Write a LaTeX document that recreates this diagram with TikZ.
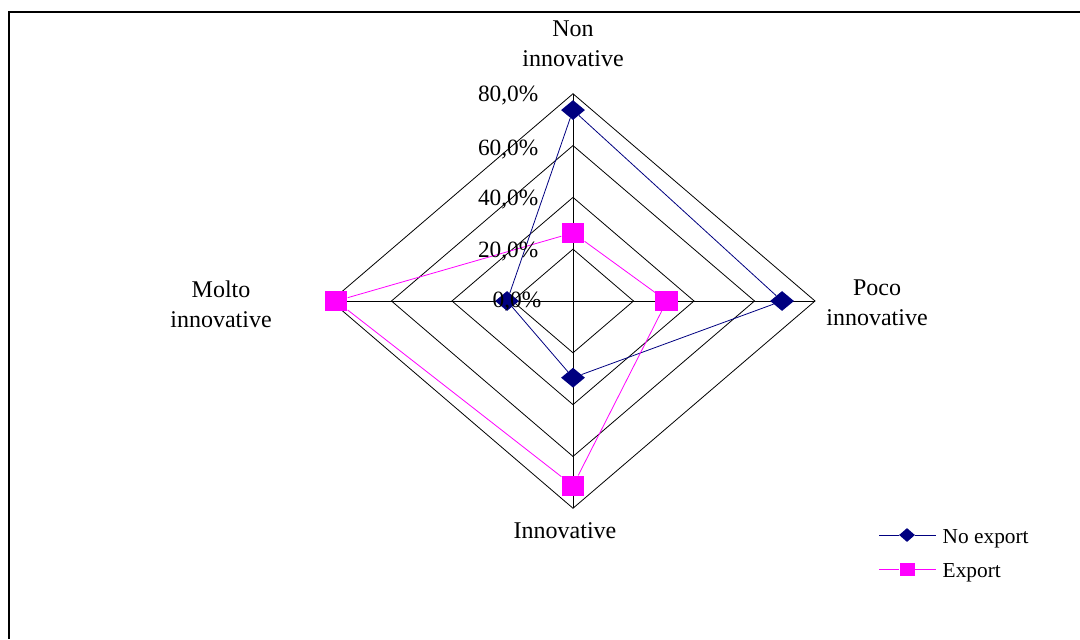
\documentclass[tikz,border=0pt]{standalone}
\usepackage{fontspec}
\setmainfont{Liberation Serif}
\usetikzlibrary{shapes.geometric}
\definecolor{RadarNavy}{HTML}{000080}
\definecolor{RadarPink}{HTML}{FF00FF}

\begin{document}
\begin{tikzpicture}[x=.75pt,y=-.75pt]
    \tikzset{
      ring/.style={draw=black,line width=.6pt},
      noexp/.style={diamond, minimum width=18pt, minimum height=15pt, inner sep=0pt,
        fill=RadarNavy},
      expo/.style={rectangle, minimum width=17pt, minimum height=15pt, inner sep=0pt,
        fill=RadarPink},
      noline/.style={draw=RadarNavy,line width=.6pt},
      expline/.style={draw=RadarPink,line width=.6pt},
      pctlabel/.style={anchor=east,font=\fontsize{17.5}{20}\selectfont},
      axislabel/.style={align=center,font=\fontsize{18}{22.5}\selectfont},
      legend/.style={anchor=base west,font=\fontsize{16}{19}\selectfont}
    }
    \useasboundingbox (0,0) rectangle (1080,639);
    \draw[line width=2.2pt] (1080,12) -- (9,12) -- (9,639);
    \begin{scope}[shift={(573,301)},x=2.269pt,y=1.943pt]
      \foreach \r in {20,40,60,80}
        \draw[ring] (0,\r) -- (\r,0) -- (0,-\r) -- (-\r,0) -- cycle;
      \draw[ring] (0,80) -- (0,-80) (-80,0) -- (80,0);
      % no export
      \node[noexp] (n1) at (0,73.7) {};
      \node[noexp] (n2) at (69.1,0) {};
      \node[noexp] (n3) at (0,-29.6) {};
      \node[noexp] (n4) at (-21.8,0) {};
      % export
      \node[expo] (e1) at (0,26.3) {};
      \node[expo] (e2) at (31,0) {};
      \node[expo] (e3) at (0,-71.3) {};
      \node[expo] (e4) at (-78.3,0) {};
      \foreach \a/\b in {n1/n2,n2/n3,n3/n4,n4/n1}
        \draw[noline] (\a) -- (\b);
      \foreach \a/\b in {e1/e2,e2/e3,e3/e4,e4/e1}
        \draw[expline] (\a) -- (\b);
    \end{scope}
    \foreach \v/\y in {20/252,40/200,60/150,80/96}
      \node[pctlabel] (t\v) at (543,\y) {\v,0\%};
    \node[pctlabel] (t0) at (546,302) {0,0\%};
    \node[axislabel] (lnon) at (573,44) {Non\\innovative};
    \node[axislabel] (lpoco) at (877,303) {Poco\\innovative};
    \node[axislabel] (lmolto) at (221,304) {Molto\\innovative};
    \node[axislabel] (linn) at (565,531) {Innovative};
    % legend
    \coordinate (na) at (879,535);
    \coordinate (nb) at (936,535);
    \node[noexp,minimum width=12pt,minimum height=10.5pt] (nk) at (907,535) {};
    \draw[noline] (na) -- (nk) -- (nb);
    \node[legend] (nt) at (938,543) {No export};
    \coordinate (ea) at (879,569);
    \coordinate (eb) at (936,569);
    \node[expo,minimum width=11.25pt,minimum height=9.75pt] (ek) at (907,569) {};
    \draw[expline] (ea) -- (ek) -- (eb);
    \node[legend] (et) at (938,577) {Export};
\end{tikzpicture}
\end{document}
